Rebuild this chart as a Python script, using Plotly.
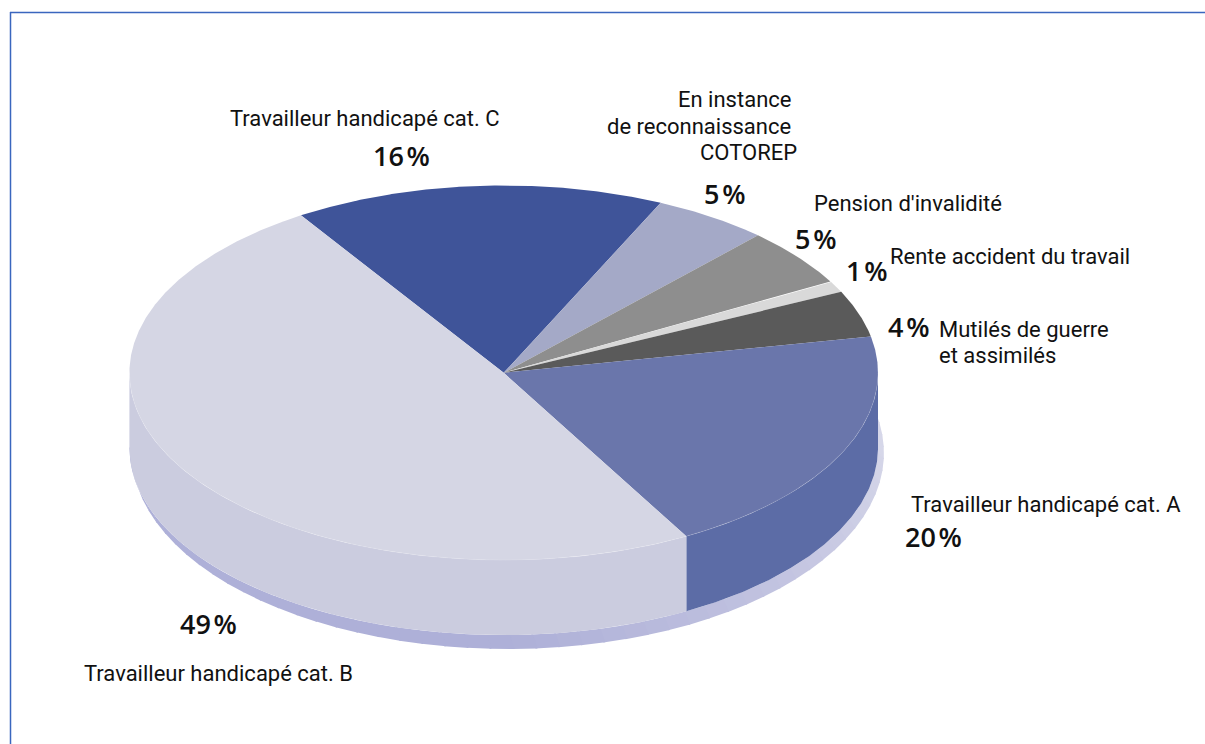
import numpy as np
import plotly.graph_objects as go

# ---- data ----
categories = ["Travailleur handicapé cat. C", "En instance de reconnaissance COTOREP",
              "Pension d'invalidité", "Rente accident du travail",
              "Mutilés de guerre et assimilés", "Travailleur handicapé cat. A",
              "Travailleur handicapé cat. B"]
values = [16, 5, 5, 1, 4, 20, 49]
top_colors = ["#3F5499", "#A4A9C7", "#8E8E8E", "#D9D9D9", "#5A5A5A", "#6A76AB", "#D5D6E4"]
side_colors = ["#3F5499", "#A4A9C7", "#8E8E8E", "#D9D9D9", "#5A5A5A", "#5C6CA6", "#CBCCDF"]

# (text, x, y, anchor)
name_labels = [
    ("Travailleur handicapé cat. C", 228, 118, "left"),
    ("En instance", 793, 99, "right"),
    ("de reconnaissance", 793, 126, "right"),
    ("COTOREP", 799, 152, "right"),
    ("Pension d'invalidité", 812, 203, "left"),
    ("Rente accident du travail", 888, 256, "left"),
    ("Mutilés de guerre", 937, 329, "left"),
    ("et assimilés", 937, 355, "left"),
    ("Travailleur handicapé cat. A", 909, 504, "left"),
    ("Travailleur handicapé cat. B", 82, 673, "left"),
]
pct_labels = [
    ("16%", 401, 155.5), ("5%", 724, 193.5), ("5%", 815.5, 238.5), ("1%", 866, 270.5),
    ("4%", 908, 326.5), ("20%", 933, 536.5), ("49%", 208, 623.5),
]

# ---- geometry of the drawing ----
CX, CY, RX, RY, DEPTH = 503.7, 372.8, 374.3, 187.3, 75
START = 327.2
SH_CX, SH_CY, SH_RX, SH_RY = 508, 453, 376, 196
FONT = "Roboto"
PFONT = "Open Sans"


def pt(a, cx=CX, cy=CY, rx=RX, ry=RY):
    r = np.radians(a)
    return cx + rx * np.sin(r), cy - ry * np.cos(r)


fig = go.Figure()


def poly(x, y, color):
    fig.add_trace(go.Scatter(x=list(x), y=list(y), mode="lines", fill="toself",
                             fillcolor=color, line=dict(width=0, color=color),
                             hoverinfo="skip", showlegend=False))


# shadow below the pie, lighter towards the right
N = 60
c0, c1 = np.array([0xAE, 0xB0, 0xD8]), np.array([0xD6, 0xD7, 0xE9])
edges = np.linspace(60, 270, N + 1)
for i in range(N):
    a = np.linspace(edges[i], edges[i + 1] + 0.3, 6)
    sx, sy = pt(a, SH_CX, SH_CY, SH_RX, SH_RY)
    px, py = pt(a[::-1], CX, CY + DEPTH)
    t = np.clip((180 - (edges[i] + edges[i + 1]) / 2) / 90, 0, 1)
    col = c0 + (c1 - c0) * t
    poly(np.r_[sx, px], np.r_[sy, py], "rgb(%d,%d,%d)" % tuple(col))

bounds = START + np.r_[0, np.cumsum(values)] * 360 / sum(values)

# side wall
for i, col in enumerate(side_colors):
    lo, hi = bounds[i], bounds[i + 1]
    for k in (0, 360):
        l, h = max(lo - k, 90), min(hi - k, 270)
        if h > l:
            a = np.linspace(l, h, 120)
            x, y = pt(a)
            poly(np.r_[x, x[::-1]], np.r_[y, y[::-1] + DEPTH], col)

# top face
for i, col in enumerate(top_colors):
    a = np.linspace(bounds[i], bounds[i + 1], max(int(values[i] * 12), 20))
    x, y = pt(a)
    poly(np.r_[CX, x, CX], np.r_[CY, y, CY], col)

# light rim between the top face and the wall
a = np.linspace(90, 270, 300)
x, y = pt(a)
fig.add_trace(go.Scatter(x=x, y=y, mode="lines", hoverinfo="skip", showlegend=False,
                         line=dict(width=0.6, color="rgba(255,255,255,0.22)")))

ann = []
for t, x, y, anchor in name_labels:
    ann.append(dict(x=x, y=y, text=t, xanchor=anchor, yanchor="middle", showarrow=False,
                    font=dict(family=FONT, size=22, color="#111111"), xref="x", yref="y"))
for t, x, y in pct_labels:
    ann.append(dict(x=x, y=y, text=t.replace("%", "\u200a%"), xanchor="center", yanchor="middle",
                    showarrow=False,
                    font=dict(family=PFONT, size=27, weight=600, color="#111111"),
                    xref="x", yref="y"))

frame = [
    dict(type="line", x0=10, x1=1205, y0=12.5, y1=12.5, line=dict(color="#3A66BE", width=1.5)),
    dict(type="line", x0=10.5, x1=10.5, y0=12, y1=744, line=dict(color="#3A66BE", width=1.5)),
]

fig.update_layout(
    width=1205, height=744, margin=dict(l=0, r=0, t=0, b=0, pad=0),
    paper_bgcolor="white", plot_bgcolor="white", showlegend=False,
    xaxis=dict(range=[0, 1205], visible=False, fixedrange=True),
    yaxis=dict(range=[744, 0], visible=False, fixedrange=True),
    annotations=ann, shapes=frame,
)
fig.write_html("out.html", config=dict(displayModeBar=False),
               default_width="1205px", default_height="744px",
               post_script="document.body.style.margin='0';document.body.style.overflow='hidden';")
